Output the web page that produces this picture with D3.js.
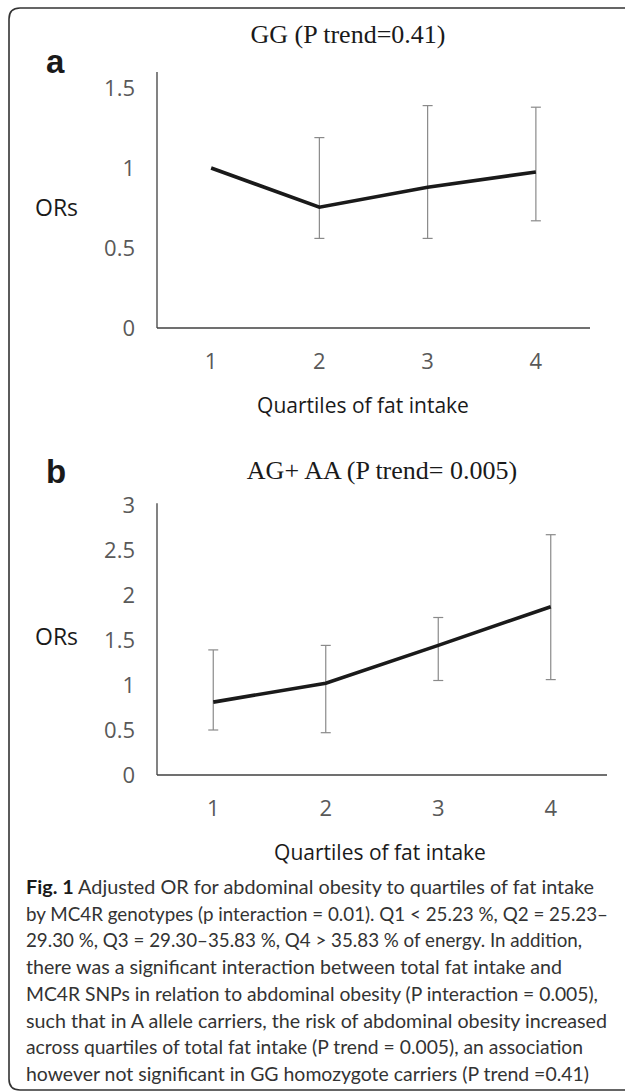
<!DOCTYPE html>
<html>
<head>
<meta charset="utf-8">
<script src="https://cdn.jsdelivr.net/npm/d3@7"></script>
<style>
  body { margin: 0; background: #fff; }
  svg { display: block; }
</style>
</head>
<body>
<svg id="fig"></svg>
<script>
const width = 625, height = 1092;

// quartiles of fat intake
const quartiles = [1, 2, 3, 4];

// panel a: GG genotype
const orsA = [1.0, 0.755, 0.88, 0.975];
const lowA = [null, 0.56, 0.56, 0.67];
const highA = [null, 1.19, 1.39, 1.38];
const ticksA = [0, 0.5, 1, 1.5];

// panel b: AG + AA genotype
const orsB = [0.81, 1.02, 1.44, 1.87];
const lowB = [0.50, 0.47, 1.05, 1.06];
const highB = [1.39, 1.44, 1.75, 2.67];
const ticksB = [0, 0.5, 1, 1.5, 2, 2.5, 3];

// caption lines (line end x)
const captionLines = [
  "Adjusted OR for abdominal obesity to quartiles of fat intake",
  "by MC4R genotypes (p interaction = 0.01). Q1 < 25.23 %, Q2 = 25.23–",
  "29.30 %, Q3 = 29.30–35.83 %, Q4 > 35.83 % of energy. In addition,",
  "there was a significant interaction between total fat intake and",
  "MC4R SNPs in relation to abdominal obesity (P interaction = 0.005),",
  "such that in A allele carriers, the risk of abdominal obesity increased",
  "across quartiles of total fat intake (P trend = 0.005), an association",
  "however not significant in GG homozygote carriers (P trend =0.41)"
];
const captionEnds = [594, 608, 582, 562, 598, 607, 583, 589];

const svg = d3.select("#fig")
    .attr("width", width)
    .attr("height", height);

// rounded frame, open on the right
const r = 11;
svg.append("path")
    .attr("d", `M${width},8 H${9 + r} Q9,8 9,${8 + r} V${1090 - r} Q9,1090 ${9 + r},1090 H${width}`)
    .attr("fill", "none")
    .attr("stroke", "#333")
    .attr("stroke-width", 1.6);

function draw_panel(opts) {
    const g = svg.append("g");
    const x = d3.scaleBand().domain(quartiles).range([157, opts.right]);
    const y = d3.scaleLinear().domain([0, opts.ymax]).range([opts.bottom, opts.top]);
    const cx = d => x(d) + x.bandwidth() / 2;

    // axis lines
    g.append("line")
        .attr("x1", 157).attr("x2", 157)
        .attr("y1", y(opts.axisTop)).attr("y2", y(0))
        .attr("stroke", "#404040").attr("stroke-width", 1.3);
    g.append("line")
        .attr("x1", 157).attr("x2", opts.right)
        .attr("y1", y(0)).attr("y2", y(0))
        .attr("stroke", "#404040").attr("stroke-width", 1.3);

    // tick labels
    g.selectAll(".ytick")
        .data(opts.ticks)
        .join("text")
        .attr("x", 135)
        .attr("y", d => y(d) + 8)
        .attr("text-anchor", "end")
        .attr("font-family", "Open Sans")
        .attr("font-size", 22)
        .attr("fill", "#595959")
        .text(d => d);
    g.selectAll(".xtick")
        .data(quartiles)
        .join("text")
        .attr("x", d => cx(d))
        .attr("y", y(0) + 41)
        .attr("text-anchor", "middle")
        .attr("font-family", "Open Sans")
        .attr("font-size", 22)
        .attr("fill", "#595959")
        .text(d => d);

    // error bars
    const bars = quartiles.map((q, i) => ({q: q, lo: opts.low[i], hi: opts.high[i]}))
        .filter(d => d.lo != null);
    const eb = g.append("g").attr("stroke", "#8a8a8a").attr("stroke-width", 1.2);
    eb.selectAll(".v").data(bars).join("line")
        .attr("x1", d => cx(d.q)).attr("x2", d => cx(d.q))
        .attr("y1", d => y(d.lo)).attr("y2", d => y(d.hi));
    eb.selectAll(".t").data(bars).join("line")
        .attr("x1", d => cx(d.q) - 5).attr("x2", d => cx(d.q) + 5)
        .attr("y1", d => y(d.hi)).attr("y2", d => y(d.hi));
    eb.selectAll(".b").data(bars).join("line")
        .attr("x1", d => cx(d.q) - 5).attr("x2", d => cx(d.q) + 5)
        .attr("y1", d => y(d.lo)).attr("y2", d => y(d.lo));

    // OR line
    const line = d3.line()
        .x((d, i) => cx(quartiles[i]))
        .y(d => y(d));
    g.append("path")
        .datum(opts.ors)
        .attr("d", line)
        .attr("fill", "none")
        .attr("stroke", "#1a1a1a")
        .attr("stroke-width", 3.6);

    // labels
    g.append("text")
        .attr("x", opts.titleX).attr("y", opts.titleY)
        .attr("text-anchor", "middle")
        .attr("font-family", "Liberation Serif")
        .attr("font-size", 26)
        .attr("fill", "#1a1a1a")
        .text(opts.title);
    g.append("text")
        .attr("x", 46).attr("y", opts.letterY)
        .attr("font-family", "Liberation Sans")
        .attr("font-weight", "bold")
        .attr("font-size", 33)
        .attr("fill", "#1a1a1a")
        .text(opts.letter);
    g.append("text")
        .attr("x", 35).attr("y", opts.orsY)
        .attr("font-family", "Open Sans")
        .attr("font-size", 23)
        .attr("fill", "#1a1a1a")
        .text("ORs");
    g.append("text")
        .attr("x", opts.xlabX).attr("y", y(0) + 85)
        .attr("text-anchor", "middle")
        .attr("font-family", "Open Sans")
        .attr("font-size", 21)
        .attr("fill", "#1a1a1a")
        .text("Quartiles of fat intake");
}

draw_panel({
    ors: orsA, low: lowA, high: highA, ticks: ticksA,
    ymax: 1.5, axisTop: 1.6, top: 88, bottom: 328, right: 590,
    title: "GG (P trend=0.41)", titleX: 348, titleY: 43,
    letter: "a", letterY: 73, orsY: 216, xlabX: 363
});

draw_panel({
    ors: orsB, low: lowB, high: highB, ticks: ticksB,
    ymax: 3, axisTop: 3.02, top: 505, bottom: 775, right: 607,
    title: "AG+ AA (P trend= 0.005)", titleX: 382, titleY: 479,
    letter: "b", letterY: 483, orsY: 645, xlabX: 380
});

// caption
const cap = svg.append("g")
    .attr("font-family", "Lato")
    .attr("font-size", 19)
    .attr("fill", "#333");
captionLines.forEach((s, i) => {
    const t = cap.append("text")
        .attr("x", 26)
        .attr("y", 894 + i * 26.7)
        .attr("textLength", captionEnds[i] - 26)
        .attr("lengthAdjust", "spacingAndGlyphs");
    if (i === 0) {
        t.append("tspan").attr("font-weight", "bold").attr("fill", "#1a1a1a").text("Fig. 1");
        t.append("tspan").text(" " + s);
    } else {
        t.text(s);
    }
});
</script>
</body>
</html>
